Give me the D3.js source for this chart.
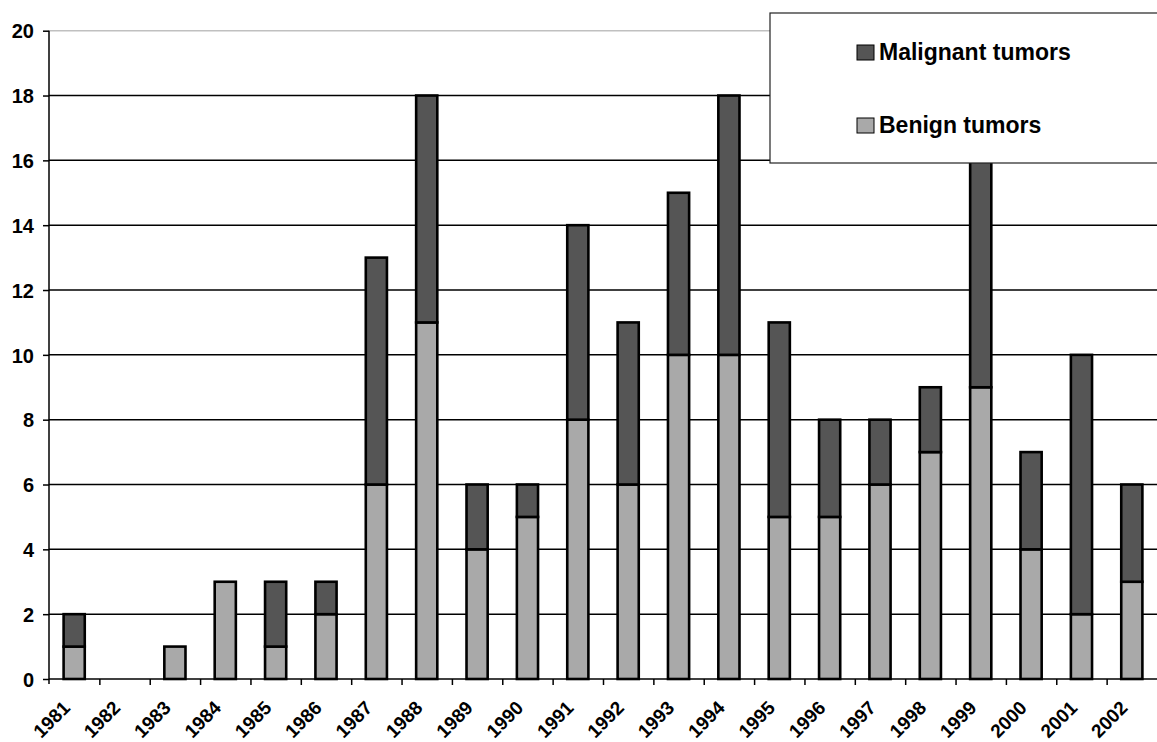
<!DOCTYPE html>
<html>
<head>
<meta charset="utf-8">
<script src="https://cdn.jsdelivr.net/npm/d3@7"></script>
<style>
  body { margin: 0; background: #fff; }
  text { font-family: "Liberation Sans", Arial, sans-serif; font-weight: bold; }
</style>
</head>
<body>
<div id="chart"></div>
<script>
const years = ["1981", "1982", "1983", "1984", "1985", "1986", "1987", "1988", "1989", "1990", "1991",
  "1992", "1993", "1994", "1995", "1996", "1997", "1998", "1999", "2000", "2001", "2002"];
const benign = [1, 0, 1, 3, 1, 2, 6, 11, 4, 5, 8, 6, 10, 10, 5, 5, 6, 7, 9, 4, 2, 3];
const malignant = [1, 0, 0, 0, 2, 1, 7, 7, 2, 1, 6, 5, 5, 8, 6, 3, 2, 2, 7, 3, 8, 3];
const yTicks = [0, 2, 4, 6, 8, 10, 12, 14, 16, 18, 20];
const seriesNames = { malignant: "Malignant tumors", benign: "Benign tumors" };
const colors = { malignant: "#555555", benign: "#a9a9a9" };

const width = 1157, height = 742;
const margin = { left: 49, right: 0, top: 30.7, bottom: 63 };

const svg = d3.select("#chart").append("svg")
  .attr("width", width)
  .attr("height", height);

const rows = years.map((y, i) => ({ year: y, benign: benign[i], malignant: malignant[i] }));
const stacked = d3.stack().keys(["benign", "malignant"])(rows);

const x = d3.scaleBand()
  .domain(years)
  .range([margin.left, width - margin.right])
  .paddingInner(0.58)
  .paddingOuter(0.29);

const xIdx = d3.scaleLinear().domain([0, years.length]).range([margin.left, width - margin.right]);

const y = d3.scaleLinear().domain([0, 20]).range([height - margin.bottom, margin.top]);

// gridlines
svg.append("g")
  .selectAll("line")
  .data(yTicks.filter(d => d > 0))
  .enter().append("line")
  .attr("x1", margin.left)
  .attr("x2", width - margin.right)
  .attr("y1", d => y(d))
  .attr("y2", d => y(d))
  .attr("stroke", d => d === 20 ? "#c0c0c0" : "#000")
  .attr("stroke-width", 1.5);

// bars
svg.append("g")
  .selectAll("g")
  .data(stacked)
  .enter().append("g")
  .attr("fill", d => colors[d.key])
  .selectAll("rect")
  .data(d => d.filter(p => p[1] - p[0] > 0))
  .enter().append("rect")
  .attr("x", d => x(d.data.year))
  .attr("y", d => y(d[1]))
  .attr("width", x.bandwidth())
  .attr("height", d => y(d[0]) - y(d[1]))
  .attr("stroke", "#000")
  .attr("stroke-width", 2.6);

// y axis
const yAxis = svg.append("g")
  .attr("transform", `translate(${margin.left},0)`)
  .call(d3.axisLeft(y).tickValues(yTicks).tickSize(6).tickPadding(9));
yAxis.select(".domain").attr("stroke", "#000").attr("stroke-width", 1.5)
  .attr("d", `M0,${y(20)}V${y(0) + 5}`);
yAxis.selectAll(".tick line").attr("stroke", "#000").attr("stroke-width", 1.5);
yAxis.selectAll(".tick text")
  .attr("fill", "#000")
  .style("font-size", "20px")
  .attr("dy", "0.36em");

// x axis
const xAxis = svg.append("g")
  .attr("transform", `translate(0,${y(0)})`)
  .call(d3.axisBottom(xIdx).tickValues(d3.range(1, years.length)).tickSize(6).tickFormat(""));
xAxis.select(".domain").attr("stroke", "#000").attr("stroke-width", 1.5)
  .attr("d", `M${margin.left},0H${width}`);
xAxis.selectAll(".tick line").attr("stroke", "#000").attr("stroke-width", 1.5);

svg.append("g")
  .selectAll("text")
  .data(years)
  .enter().append("text")
  .attr("transform", d => `translate(${x(d) + x.bandwidth() / 2 - 3},${y(0) + 30}) rotate(-45)`)
  .attr("text-anchor", "end")
  .style("font-size", "19px")
  .text(d => d);

// legend
const legend = svg.append("g");
legend.append("rect")
  .attr("x", 770)
  .attr("y", 13)
  .attr("width", 400)
  .attr("height", 150)
  .attr("fill", "#fff")
  .attr("stroke", "#222")
  .attr("stroke-width", 1.2);

const legendItems = legend.selectAll("g.item")
  .data(["malignant", "benign"])
  .enter().append("g")
  .attr("class", "item")
  .attr("transform", (d, i) => `translate(857,${60 + i * 73})`);

legendItems.append("rect")
  .attr("x", 0)
  .attr("y", -15)
  .attr("width", 17)
  .attr("height", 15)
  .attr("fill", d => colors[d])
  .attr("stroke", "#000")
  .attr("stroke-width", 1);

legendItems.append("text")
  .attr("x", 22)
  .attr("y", 0)
  .style("font-size", "23px")
  .text(d => seriesNames[d]);
</script>
</body>
</html>
